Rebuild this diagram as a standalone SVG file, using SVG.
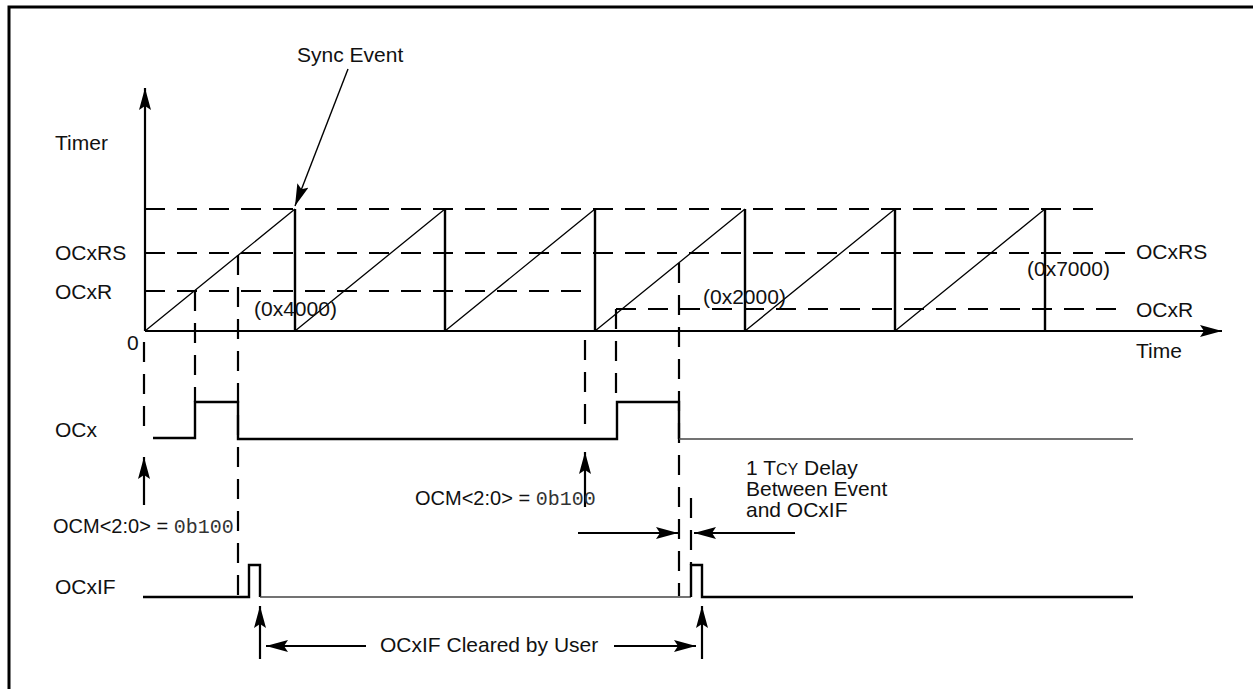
<svg xmlns="http://www.w3.org/2000/svg" width="1253" height="689" viewBox="0 0 1253 689">
<style>
text{font-family:"Liberation Sans",Arial,sans-serif;font-size:21px;fill:#111}
.ocm{font-size:20px}
.mono{font-family:"Liberation Mono","Courier New",monospace;fill:#333}
.dash{stroke:#000;stroke-width:2.2;stroke-dasharray:20 12;fill:none}
.thin{stroke:#000;stroke-width:1.3;fill:none}
.thick{stroke:#000;stroke-width:2.4;fill:none}
.gray{stroke:#444;stroke-width:1.3;fill:none}
.arr{stroke:#000;stroke-width:2.2;fill:none;marker-end:url(#ah)}
</style>
<defs>
<marker id="ah" markerUnits="userSpaceOnUse" markerWidth="22" markerHeight="12" refX="22" refY="6" orient="auto">
<path d="M0,0 L22,6 L0,12 L4,6 z" fill="#000"/>
</marker>
</defs>
<rect width="1253" height="689" fill="#fff"/>
<g id="frame">
<path d="M9,689 V7 H1253" stroke="#000" stroke-width="3" fill="none"/>
</g>
<g id="axes">
<line class="arr" x1="145" y1="331" x2="145" y2="88"/>
<line class="arr" x1="145" y1="331" x2="1222" y2="331"/>
<text x="55" y="150">Timer</text>
<text x="127" y="350">0</text>
<text x="1136" y="358">Time</text>
</g>
<g id="levels">
<line class="dash" x1="145" y1="209" x2="1103" y2="209"/>
<line class="dash" x1="145" y1="253" x2="1128" y2="253"/>
<line class="dash" x1="145" y1="291" x2="590" y2="291"/>
<line class="dash" x1="616" y1="309" x2="1128" y2="309"/>
<text x="55" y="260">OCxRS</text>
<text x="55" y="299">OCxR</text>
<text x="1136" y="259">OCxRS</text>
<text x="1136" y="317">OCxR</text>
</g>
<g id="timer">
<path class="thin" d="M145,331 L295,209 M295,331 L445,209 M445,331 L595,209 M595,331 L745,209 M745,331 L895,209 M895,331 L1045,209"/>
<path class="thick" d="M295,209 V331 M445,209 V331 M595,209 V331 M745,209 V331 M895,209 V331 M1045,209 V331"/>
<text x="254" y="316">(0x4000)</text>
<text x="703" y="304">(0x2000)</text>
<text x="1027" y="276">(0x7000)</text>
</g>
<g id="sync-event">
<text x="297" y="62">Sync Event</text>
<line x1="348" y1="69" x2="295" y2="206" stroke="#000" stroke-width="1.4" marker-end="url(#ah)"/>
</g>
<g id="connectors">
<line class="dash" x1="144" y1="342" x2="144" y2="432"/>
<line class="dash" x1="195" y1="291" x2="195" y2="402"/>
<line class="dash" x1="238" y1="255" x2="238" y2="596"/>
<line class="dash" x1="585" y1="340" x2="585" y2="432"/>
<line class="dash" x1="616" y1="309" x2="616" y2="402"/>
<line class="dash" x1="679" y1="263" x2="679" y2="596"/>
<line class="dash" x1="691" y1="498" x2="691" y2="565"/>
<line class="arr" x1="144" y1="505" x2="144" y2="457"/>
<line class="arr" x1="585" y1="507" x2="585" y2="452"/>
<line class="arr" x1="578" y1="533" x2="678" y2="533"/>
<line class="arr" x1="795" y1="533" x2="694" y2="533"/>
<line class="arr" x1="260" y1="659" x2="260" y2="606"/>
<line class="arr" x1="702" y1="659" x2="702" y2="606"/>
<line class="arr" x1="366" y1="646" x2="266" y2="646"/>
<line class="arr" x1="614" y1="646" x2="696" y2="646"/>
</g>
<g id="ocx">
<text x="55" y="437">OCx</text>
<path class="thick" d="M153,438 H195 V402 H238 V439 H617 V402 H679 V439"/>
<path class="gray" d="M679,439 H1133"/>
</g>
<g id="ocxif">
<text x="55" y="594">OCxIF</text>
<path class="thick" d="M143,597 H249 V565 H260 V597"/>
<path class="gray" d="M260,597 H691"/>
<path class="thick" d="M691,597 V565 H702 V597 H1133"/>
</g>
<g id="labels">
<text class="ocm" x="53" y="533">OCM&lt;2:0&gt; = <tspan class="mono">0b100</tspan></text>
<text class="ocm" x="415" y="505">OCM&lt;2:0&gt; = <tspan class="mono">0b100</tspan></text>
<text x="746" y="475">1 T<tspan font-size="16">CY</tspan> Delay</text>
<text x="746" y="496">Between Event</text>
<text x="746" y="517">and OCxIF</text>
<text x="380" y="652">OCxIF Cleared by User</text>
</g>
</svg>
